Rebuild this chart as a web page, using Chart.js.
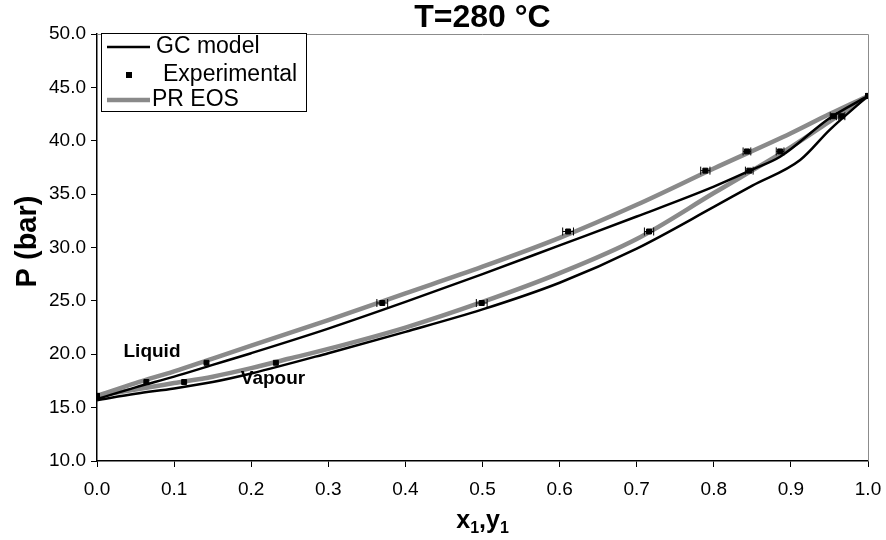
<!DOCTYPE html>
<html>
<head>
<meta charset="utf-8">
<script src="https://cdn.jsdelivr.net/npm/chart.js@4/dist/chart.umd.min.js"></script>
<style>
html,body{margin:0;padding:0;background:#fff;}
#wrap{width:886px;height:540px;position:relative;}
</style>
</head>
<body>
<div id="wrap"><canvas id="c" width="886" height="540"></canvas></div>
<script>
// ---- data ----
const xTickValues = [0,0.1,0.2,0.3,0.4,0.5,0.6,0.7,0.8,0.9,1.0];
const yTickValues = [10,15,20,25,30,35,40,45,50];

// GC model, liquid (bubble) curve
const gcLiqX = [0,0.05,0.1,0.15,0.2,0.3,0.4,0.5,0.6,0.7,0.8,0.85,0.886,0.95,1.0];
const gcLiqP = [15.8,16.9,17.9,19.0,20.1,22.4,24.9,27.5,30.2,32.9,35.7,37.3,38.5,42.1,44.2];
// GC model, vapour (dew) curve
const gcVapX = [0,0.05,0.1,0.15,0.2,0.3,0.4,0.5,0.6,0.7,0.8,0.85,0.912,0.95,1.0];
const gcVapP = [15.7,16.3,16.8,17.4,18.2,20.1,22.1,24.2,26.7,29.9,33.8,35.8,38.2,41.0,44.2];
// PR EOS, liquid curve
const prLiqX = [0,0.05,0.1,0.15,0.2,0.3,0.4,0.5,0.6,0.7,0.8,0.9,0.95,1.0];
const prLiqP = [16.1,17.3,18.4,19.6,20.8,23.2,25.7,28.2,30.9,34.0,37.4,40.7,42.5,44.2];
// PR EOS, vapour curve
const prVapX = [0,0.05,0.1,0.15,0.2,0.25,0.3,0.4,0.5,0.6,0.7,0.8,0.9,0.95,1.0];
const prVapP = [16.1,16.7,17.3,17.9,18.7,19.6,20.5,22.5,24.9,27.6,30.8,35.1,39.4,41.8,44.2];
// Experimental
const expP    = [16.1,17.4,19.2,24.8,31.5,37.2,39.0,42.3,44.2];
const expX    = [0,0.064,0.142,0.370,0.611,0.789,0.843,0.955,1.0];
const expY    = [0,0.113,0.232,0.499,0.716,0.846,0.886,0.966,1.0];
const errX    = [0,0,0,0.007,0.007,0.006,0.005,0.004,0];
const errY    = [0,0,0,0.007,0.006,0.005,0.005,0.004,0];

const GRAY = '#8a8a8a';
const FONT = 'Arial, "Liberation Sans", sans-serif';

function pts(xs, ys){ return xs.map((x,i)=>({x:x, y:ys[i]})); }

const datasets = [
  {label:'Experimental', data: pts(expX, expP), err: errX, showLine:false, pointStyle:'rect', pointRadius:3.5, pointBackgroundColor:'#000', pointBorderColor:'#000', order:0},
  {label:'Experimental vap', data: pts(expY, expP), err: errY, showLine:false, pointStyle:'rect', pointRadius:3.5, pointBackgroundColor:'#000', pointBorderColor:'#000', order:0},
  {label:'GC model', data: pts(gcLiqX, gcLiqP), showLine:true, borderColor:'#000', borderWidth:2.5, pointRadius:0, cubicInterpolationMode:'monotone', order:1},
  {label:'GC model vap', data: pts(gcVapX, gcVapP), showLine:true, borderColor:'#000', borderWidth:2.5, pointRadius:0, cubicInterpolationMode:'monotone', order:1},
  {label:'PR EOS', data: pts(prLiqX, prLiqP), showLine:true, borderColor:GRAY, borderWidth:4.5, pointRadius:0, cubicInterpolationMode:'monotone', order:2},
  {label:'PR EOS vap', data: pts(prVapX, prVapP), showLine:true, borderColor:GRAY, borderWidth:4.5, pointRadius:0, cubicInterpolationMode:'monotone', order:2}
];

const errorBars = {
  id:'errorBars',
  afterDatasetsDraw(chart){
    const ctx = chart.ctx, xs = chart.scales.x, ys = chart.scales.y;
    ctx.save();
    ctx.strokeStyle = '#000'; ctx.lineWidth = 1;
    chart.data.datasets.forEach(ds=>{
      if(!ds.err) return;
      ds.data.forEach((p,i)=>{
        const e = ds.err[i]; if(!e) return;
        const y = ys.getPixelForValue(p.y);
        const x1 = xs.getPixelForValue(p.x - e), x2 = xs.getPixelForValue(p.x + e);
        ctx.beginPath();
        ctx.moveTo(x1, y); ctx.lineTo(x2, y);
        ctx.moveTo(x1, y-4); ctx.lineTo(x1, y+4);
        ctx.moveTo(x2, y-4); ctx.lineTo(x2, y+4);
        ctx.stroke();
      });
    });
    ctx.restore();
  }
};

const decor = {
  id:'decor',
  beforeDatasetsDraw(chart){
    const ctx = chart.ctx, a = chart.chartArea;
    ctx.save();
    ctx.strokeStyle = '#8c8c8c'; ctx.lineWidth = 1;
    ctx.beginPath();
    ctx.moveTo(a.left, a.top+0.5); ctx.lineTo(a.right+0.5, a.top+0.5); ctx.lineTo(a.right+0.5, a.bottom);
    ctx.stroke();
    ctx.restore();
  },
  afterDraw(chart){
    const ctx = chart.ctx, a = chart.chartArea;
    ctx.save();
    ctx.fillStyle = '#000';
    // title
    ctx.font = 'bold 32px ' + FONT;
    ctx.textAlign = 'center'; ctx.textBaseline = 'middle';
    ctx.fillText('T=280 °C', (a.left + a.right)/2, 18);
    // y axis title
    ctx.save();
    ctx.translate(28, (a.top + a.bottom)/2 - 6);
    ctx.rotate(-Math.PI/2);
    ctx.font = 'bold 29px ' + FONT;
    ctx.fillText('P (bar)', 0, 0);
    ctx.restore();
    // x axis title with subscripts
    const parts = [['x','b'],['1','s'],[',y','b'],['1','s']];
    const fb = 'bold 25px ' + FONT, fs = 'bold 16px ' + FONT;
    let w = 0;
    parts.forEach(p=>{ ctx.font = p[1]==='b'?fb:fs; w += ctx.measureText(p[0]).width; });
    let x = (a.left + a.right)/2 - w/2;
    ctx.textAlign = 'left'; ctx.textBaseline = 'alphabetic';
    parts.forEach(p=>{
      ctx.font = p[1]==='b'?fb:fs;
      ctx.fillText(p[0], x, p[1]==='b'?528:533);
      x += ctx.measureText(p[0]).width;
    });
    // curve labels
    ctx.font = 'bold 19px ' + FONT;
    ctx.textAlign = 'center'; ctx.textBaseline = 'middle';
    ctx.fillText('Liquid', 152, 352);
    ctx.fillText('Vapour', 273, 379);
    // legend
    const L = {x:101, y:33, w:205, h:78};
    ctx.fillStyle = '#fff';
    ctx.fillRect(L.x, L.y, L.w, L.h);
    ctx.strokeStyle = '#000'; ctx.lineWidth = 1;
    ctx.strokeRect(L.x+0.5, L.y+0.5, L.w, L.h);
    ctx.fillStyle = '#000';
    ctx.font = '23px ' + FONT;
    ctx.textAlign = 'left'; ctx.textBaseline = 'middle';
    const r1 = L.y + 14, r2 = L.y + 42, r3 = L.y + 67;
    ctx.lineWidth = 2.5; ctx.strokeStyle = '#000';
    ctx.beginPath(); ctx.moveTo(107, r1); ctx.lineTo(150, r1); ctx.stroke();
    ctx.fillText('GC model', 156, r1);
    ctx.fillRect(126, r2-3, 6, 6);
    ctx.fillText('Experimental', 163, r2);
    ctx.lineWidth = 4.5; ctx.strokeStyle = GRAY;
    ctx.beginPath(); ctx.moveTo(107, r3); ctx.lineTo(150, r3); ctx.stroke();
    ctx.fillText('PR EOS', 152, r3);
    ctx.restore();
  }
};

new Chart(document.getElementById('c'), {
  type:'scatter',
  data:{datasets:datasets},
  options:{
    responsive:false,
    animation:false,
    layout:{padding:{left:0, right:18, top:34, bottom:0}},
    plugins:{legend:{display:false}, title:{display:false}, tooltip:{enabled:false}},
    scales:{
      x:{
        type:'linear', min:0, max:1,
        afterBuildTicks(s){ s.ticks = xTickValues.map(v=>({value:v})); },
        afterFit(s){ s.height = 79; s.paddingLeft = 0; s.paddingRight = 0; },
        grid:{drawOnChartArea:false, drawTicks:true, tickLength:6, color:'#000'},
        border:{color:'#000', width:1.5},
        ticks:{color:'#000', font:{family:FONT, size:19}, padding:11, maxRotation:0, callback:v=>Number(v).toFixed(1)}
      },
      y:{
        type:'linear', min:10, max:50,
        afterBuildTicks(s){ s.ticks = yTickValues.map(v=>({value:v})); },
        afterFit(s){ s.width = 97; s.paddingTop = 0; s.paddingBottom = 0; },
        grid:{drawOnChartArea:false, drawTicks:true, tickLength:6, color:'#000'},
        border:{color:'#000', width:1.5},
        ticks:{color:'#000', font:{family:FONT, size:19}, padding:5, callback:v=>Number(v).toFixed(1)}
      }
    }
  },
  plugins:[errorBars, decor]
});
</script>
</body>
</html>
